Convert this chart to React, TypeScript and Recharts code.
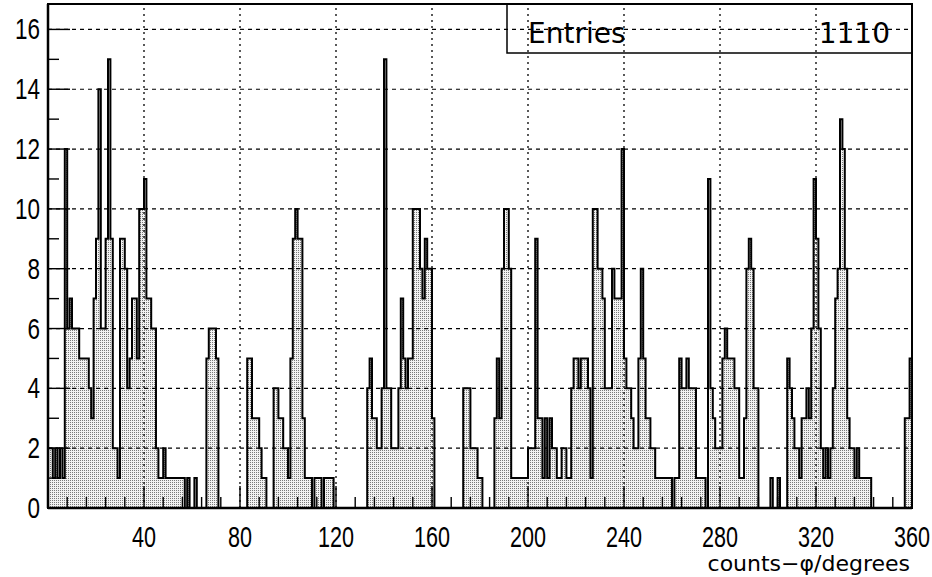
import React from "react";
import { AreaChart, Area, XAxis, YAxis, ReferenceLine, ReferenceArea } from "recharts";

// counts per 1-degree bin, phi = 0..359
const COUNTS = [
  2, 2, 1, 2, 1, 2, 1, 12, 6, 7,
  6, 6, 6, 5, 5, 5, 5, 4, 3, 7,
  9, 14, 6, 6, 9, 15, 9, 2, 2, 1,
  9, 9, 8, 4, 5, 7, 7, 5, 10, 10,
  11, 7, 7, 6, 6, 2, 1, 1, 2, 1,
  1, 1, 1, 1, 1, 1, 1, 0, 1, 0,
  0, 1, 0, 0, 0, 0, 5, 6, 6, 6,
  5, 0, 0, 0, 0, 0, 0, 0, 0, 0,
  0, 0, 0, 5, 5, 3, 3, 3, 2, 1,
  1, 0, 0, 0, 4, 4, 3, 3, 2, 2,
  1, 5, 9, 10, 9, 9, 3, 1, 1, 1,
  0, 1, 1, 1, 0, 1, 1, 1, 1, 0,
  0, 0, 0, 0, 0, 0, 0, 0, 0, 0,
  0, 0, 0, 4, 5, 3, 3, 2, 2, 4,
  15, 4, 4, 2, 2, 2, 4, 7, 5, 4,
  5, 5, 10, 10, 10, 8, 7, 9, 8, 8,
  3, 0, 0, 0, 0, 0, 0, 0, 0, 0,
  0, 0, 0, 4, 4, 4, 2, 2, 2, 1,
  1, 0, 0, 0, 0, 0, 3, 5, 3, 8,
  10, 10, 8, 1, 1, 1, 1, 1, 1, 1,
  2, 2, 2, 9, 3, 3, 1, 3, 1, 3,
  2, 2, 1, 1, 2, 2, 1, 1, 4, 5,
  5, 4, 5, 5, 5, 4, 1, 10, 10, 8,
  8, 7, 4, 4, 4, 8, 7, 7, 7, 12,
  5, 4, 4, 3, 2, 2, 5, 8, 5, 3,
  3, 2, 2, 1, 1, 1, 1, 1, 1, 1,
  0, 1, 1, 5, 4, 4, 5, 4, 4, 4,
  1, 1, 1, 1, 0, 11, 4, 3, 2, 2,
  2, 5, 6, 5, 5, 5, 4, 4, 1, 1,
  3, 8, 9, 8, 4, 4, 0, 0, 0, 0,
  0, 1, 0, 0, 1, 0, 0, 0, 5, 4,
  3, 2, 2, 1, 3, 3, 4, 3, 6, 11,
  9, 6, 2, 1, 2, 1, 2, 4, 7, 8,
  13, 12, 8, 3, 2, 2, 1, 2, 1, 1,
  1, 1, 1, 0, 0, 0, 0, 0, 0, 0,
  0, 0, 0, 0, 0, 0, 0, 3, 3, 5,
];

const X_TICKS = [
  0, 8, 16, 24, 32, 40, 48, 56, 64, 72, 80, 88, 96, 104, 112, 120, 128, 136, 144, 152,
  160, 168, 176, 184, 192, 200, 208, 216, 224, 232, 240, 248, 256, 264, 272, 280, 288,
  296, 304, 312, 320, 328, 336, 344, 352, 360,
];
const X_LABELS = [40, 80, 120, 160, 200, 240, 280, 320, 360];
const X_GRID = [40, 80, 120, 160, 200, 240, 280, 320];
const Y_TICKS = [0, 1, 2, 3, 4, 5, 6, 7, 8, 9, 10, 11, 12, 13, 14, 15, 16];
const Y_LABELS = [0, 2, 4, 6, 8, 10, 12, 14, 16];
const Y_GRID = [2, 4, 6, 8, 10, 12, 14, 16];
const Y_MAX = 16.85;
const ENTRIES = 1110;

// step histogram: each point is the lower edge of a bin, closing point at 360
const data = COUNTS.map((n, i) => ({ phi: i, n })).concat([
  { phi: 360, n: COUNTS[COUNTS.length - 1] },
]);

const LABEL_FONT = "'Liberation Sans', Arial, sans-serif";

const XTick = (props: any) => {
  const { x, y, payload } = props;
  const v = payload.value;
  const major = X_LABELS.includes(v);
  return (
    <g>
      {v > 0 && v < 360 && (
        <line x1={x} x2={x} y1={y} y2={y - (major ? 22 : 11)} stroke="#000" strokeWidth={1.4} />
      )}
      {major && (
        <text
          transform={`translate(${x} ${y + 39}) scale(0.72 1)`}
          textAnchor="middle"
          fontSize={30}
          fontFamily={LABEL_FONT}
          fill="#000"
        >
          {v}
        </text>
      )}
    </g>
  );
};

const YTick = (props: any) => {
  const { x, y, payload } = props;
  const v = payload.value;
  const major = Y_LABELS.includes(v);
  return (
    <g>
      {v > 0 && (
        <line x1={x} x2={x + (major ? 22 : 11)} y1={y} y2={y} stroke="#000" strokeWidth={1.4} />
      )}
      {major && (
        <text
          transform={`translate(${x - 8} ${y + 10}) scale(0.75 1)`}
          textAnchor="end"
          fontSize={30}
          fontFamily={LABEL_FONT}
          fill="#000"
        >
          {v}
        </text>
      )}
    </g>
  );
};

export default function App() {
  return (
    <div style={{ position: "absolute", left: 0, top: 0, width: 932, height: 577, background: "#fff" }}>
      <AreaChart width={932} height={577} data={data} margin={{ top: 4, right: 20, bottom: 0, left: 0 }}>
        <defs>
          {/* dotted grey fill, like the stippled print */}
          <pattern id="stipple" width="2" height="2" patternUnits="userSpaceOnUse">
            <rect width="2" height="2" fill="#f2f2f2" />
            <rect x="0" y="0" width="1" height="1" fill="#7a7a7a" />
          </pattern>
        </defs>
        <XAxis
          type="number"
          dataKey="phi"
          domain={[0, 360]}
          ticks={X_TICKS}
          interval={0}
          tick={(p: any) => <XTick {...p} />}
          tickLine={false}
          tickSize={0}
          tickMargin={0}
          height={69}
          axisLine={{ stroke: "#000", strokeWidth: 2.5 }}
        />
        <YAxis
          type="number"
          domain={[0, Y_MAX]}
          ticks={Y_TICKS}
          interval={0}
          tick={(p: any) => <YTick {...p} />}
          tickLine={false}
          tickSize={0}
          tickMargin={0}
          width={48}
          axisLine={{ stroke: "#000", strokeWidth: 2.5 }}
        />
        <Area
          type="stepAfter"
          dataKey="n"
          stroke="#000"
          strokeWidth={2}
          fill="url(#stipple)"
          fillOpacity={1}
          dot={false}
          activeDot={false}
          isAnimationActive={false}
        />
        {Y_GRID.map((v) => (
          <ReferenceLine key={`gy${v}`} y={v} stroke="#000" strokeWidth={1.2} strokeDasharray="4 4" />
        ))}
        {X_GRID.map((v) => (
          <ReferenceLine key={`gx${v}`} x={v} stroke="#000" strokeWidth={1.3} strokeDasharray="2 4" />
        ))}
        <ReferenceArea x1={0} x2={360} y1={0} y2={Y_MAX} fill="none" stroke="#000" strokeWidth={2} />
      </AreaChart>
      <svg
        width={932}
        height={577}
        style={{ position: "absolute", left: 0, top: 0, pointerEvents: "none" }}
      >
        <rect x={507} y={4} width={405} height={49} fill="none" stroke="#000" strokeWidth={1.5} />
        <text x={528} y={43} fontSize={28} fontFamily="'DejaVu Sans', sans-serif" fill="#000">
          Entries
        </text>
        <text x={890} y={43} textAnchor="end" fontSize={28} fontFamily="'DejaVu Sans', sans-serif" fill="#000">
          {ENTRIES}
        </text>
        <text x={910} y={571} textAnchor="end" fontSize={22} fontFamily="'DejaVu Sans', sans-serif" fill="#000">
          counts−φ/degrees
        </text>
      </svg>
    </div>
  );
}
